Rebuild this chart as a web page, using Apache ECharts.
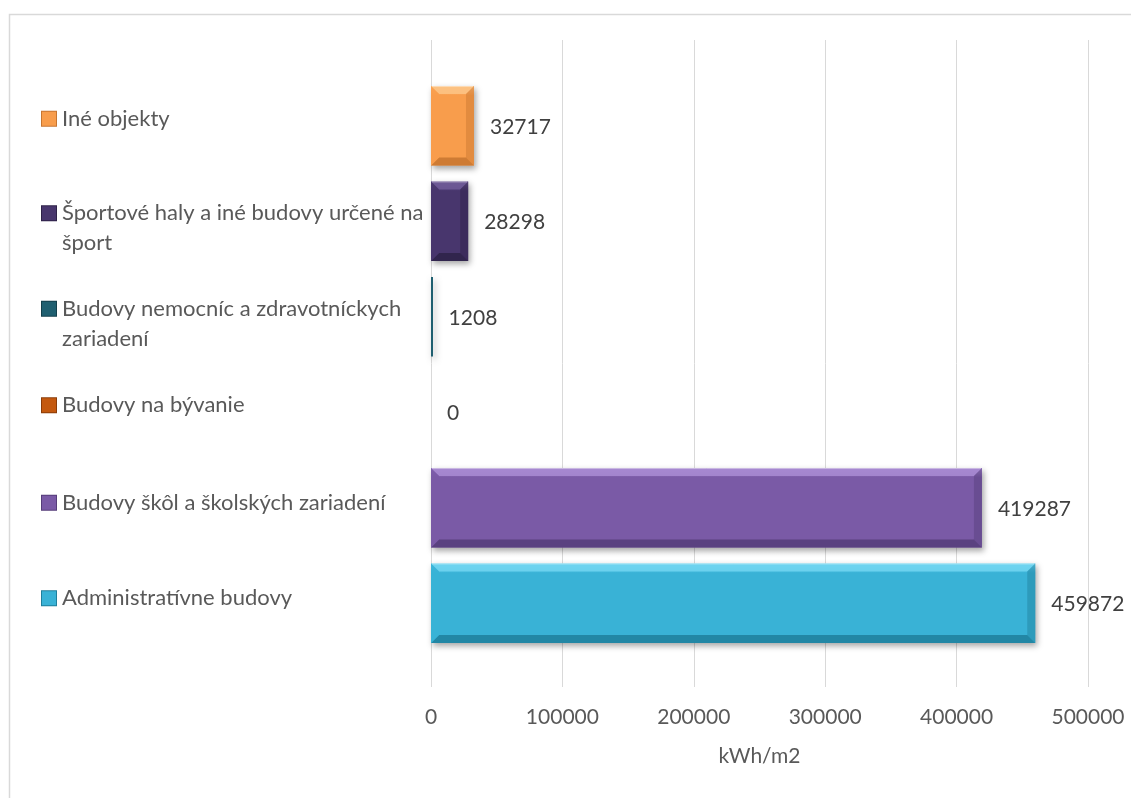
<!DOCTYPE html>
<html>
<head>
<meta charset="utf-8">
<script src="https://cdn.jsdelivr.net/npm/echarts@6/dist/echarts.min.js"></script>
<style>
  html, body { margin: 0; padding: 0; background: #fff; }
  #chart { width: 1131px; height: 798px; }
</style>
</head>
<body>
<div id="chart"></div>
<script>
// Building categories, listed from the bottom of the chart to the top
const categories = [
  'Administratívne budovy',
  'Budovy škôl a školských zariadení',
  'Budovy na bývanie',
  'Budovy nemocníc a zdravotníckych\nzariadení',
  'Športové haly a iné budovy určené na\nšport',
  'Iné objekty'
];
// Energy use per category (kWh/m2)
const values = [459872, 419287, 0, 1208, 28298, 32717];
// Value axis ticks
const xTicks = [0, 100000, 200000, 300000, 400000, 500000];
const axisName = 'kWh/m2';

// Colour for each category: [face, light bevel, dark bevel]
const palette = [
  ['#39b2d6', '#6fd4f0', '#1f7f9c'],
  ['#7a5aa6', '#a688d0', '#553d79'],
  ['#c4590f', '#e88a45', '#8a3c08'],
  ['#1f5f70', '#3d8799', '#133f4b'],
  ['#48366d', '#6e5a96', '#2e2248'],
  ['#f89d4c', '#fcc283', '#c77630']
];
// vertical nudges so the first text line of every label sits evenly spaced
const labelPad = [
  [0, 0, 10, 0],
  [0, 0, 10, 0],
  [0, 0, 14, 0],
  [14, 0, 0, 0],
  [14, 0, 0, 0],
  [0, 0, 14, 0]
];

const FONT = 'Lato, "Open Sans", sans-serif';

const rich = {
  sp: { width: 14, height: 14 },
  t: { padding: [0, 0, 0, 6], fontSize: 22, color: '#595959', fontFamily: FONT, lineHeight: 30 }
};
palette.forEach((c, i) => {
  rich['sq' + i] = { width: 14, height: 14, backgroundColor: c[0], borderColor: c[2], borderWidth: 1 };
});

const catData = categories.map((name, i) => ({
  value: name,
  textStyle: { padding: labelPad[i], align: 'left' }
}));

const barData = values.map((v, i) => [v, i]);

function renderBar(params, api) {
  const idx = api.value(1);
  const val = api.value(0);
  const start = api.coord([0, idx]);
  const end = api.coord([val, idx]);
  const band = api.size([0, 1])[1];
  const h = band * 0.835;
  const x0 = start[0], x1 = end[0], yc = start[1];
  const y0 = yc - h / 2, y1 = yc + h / 2;
  const w = x1 - x0;
  const b = Math.max(0, Math.min(8, w / 2, h / 2));
  const c = palette[idx];
  const children = [];
  if (w > 0) {
    children.push({
      type: 'rect',
      shape: { x: x0, y: y0, width: Math.max(w, 2), height: h },
      style: {
        fill: b > 1 ? new echarts.graphic.LinearGradient(0, 0, 0, 1, [
          { offset: 0, color: c[1] },
          { offset: 0.12, color: c[0] },
          { offset: 1, color: c[0] }
        ]) : c[0],
        shadowBlur: 6, shadowOffsetX: 2, shadowOffsetY: 3, shadowColor: 'rgba(0,0,0,0.35)'
      }
    });
    if (b > 1) {
      children.push({ type: 'polygon', shape: { points: [[x0, y0], [x1, y0], [x1 - b, y0 + b], [x0 + b, y0 + b]] }, style: { fill: c[1], opacity: 0.9 } });
      children.push({ type: 'polygon', shape: { points: [[x0, y1], [x1, y1], [x1 - b, y1 - b], [x0 + b, y1 - b]] }, style: { fill: c[2], opacity: 0.85 } });
      children.push({ type: 'polygon', shape: { points: [[x0, y0], [x0 + b, y0 + b], [x0 + b, y1 - b], [x0, y1]] }, style: { fill: c[0], opacity: 0.9 } });
      children.push({ type: 'polygon', shape: { points: [[x1, y0], [x1 - b, y0 + b], [x1 - b, y1 - b], [x1, y1]] }, style: { fill: c[2], opacity: 0.45 } });
      children.push({ type: 'line', shape: { x1: x0 + 1, y1: y0 + 0.5, x2: x1 - 1, y2: y0 + 0.5 }, style: { stroke: '#ffffff', opacity: 0.45, lineWidth: 1 } });
    }
  }
  children.push({
    type: 'text',
    style: {
      x: x1 + 16, y: yc + 1,
      text: String(val),
      fill: '#404040',
      font: '21px ' + FONT,
      verticalAlign: 'middle', align: 'left'
    }
  });
  return { type: 'group', children };
}

const chart = echarts.init(document.getElementById('chart'), null, { renderer: 'canvas' });
chart.setOption({
  backgroundColor: '#ffffff',
  animation: false,
  graphic: [{
    type: 'rect', left: 7, top: 12, silent: true,
    shape: { x: 0, y: 0, width: 1200, height: 900 },
    style: { fill: 'none', stroke: '#d9d9d9', lineWidth: 1.5 }
  }],
  grid: [
    { left: 431, right: 43, top: 40, bottom: 111, containLabel: false, outerBoundsMode: 'none' },
    { left: 431, right: 43, top: 78, bottom: 147, containLabel: false, outerBoundsMode: 'none' }
  ],
  xAxis: [
    {
      gridIndex: 0, type: 'value', min: xTicks[0], max: xTicks[xTicks.length - 1], interval: xTicks[1] - xTicks[0],
      axisLine: { show: false }, axisTick: { show: false },
      splitLine: { show: true, lineStyle: { color: '#d9d9d9', width: 1 } },
      axisLabel: { margin: 20, fontSize: 21, color: '#595959', fontFamily: FONT, formatter: v => String(v) },
      name: axisName, nameLocation: 'middle', nameGap: 59,
      nameTextStyle: { fontSize: 21, color: '#595959', fontFamily: FONT }
    },
    {
      gridIndex: 1, type: 'value', min: xTicks[0], max: xTicks[xTicks.length - 1],
      show: false, splitLine: { show: false }
    }
  ],
  yAxis: [
    { gridIndex: 0, type: 'value', show: false, splitLine: { show: false } },
    {
      gridIndex: 1, type: 'category', data: catData,
      axisLine: { show: false }, axisTick: { show: false }, splitLine: { show: false },
      axisLabel: {
        margin: 389, interval: 0, align: 'left',
        rich,
        formatter: (val, i) => val.split('\n').map((line, k) =>
          (k === 0 ? '{sq' + i + '|}' : '{sp|}') + '{t|' + line + '}').join('\n')
      }
    }
  ],
  series: [{
    type: 'custom',
    xAxisIndex: 1, yAxisIndex: 1,
    encode: { x: 0, y: 1 },
    data: barData,
    renderItem: renderBar,
    clip: false
  }]
});
</script>
</body>
</html>
